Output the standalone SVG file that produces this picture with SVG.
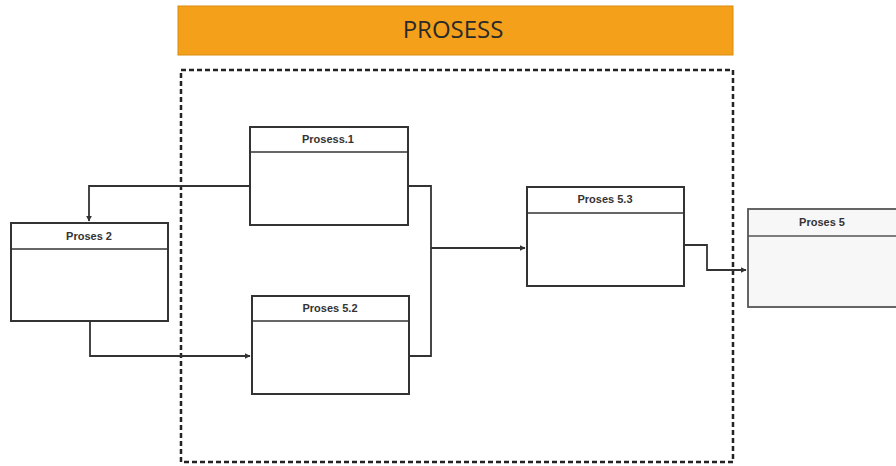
<svg xmlns="http://www.w3.org/2000/svg" width="896" height="466" viewBox="0 0 896 466">
<defs>
<style>
.box{fill:#fff;stroke:#333;stroke-width:2}
.div{stroke:#333;stroke-width:1.5}
.lbl{font-family:"Liberation Sans",Arial,sans-serif;font-size:11px;font-weight:bold;fill:#333;text-anchor:middle}
.con{fill:none;stroke:#333;stroke-width:1.8}
</style>
<marker id="arr" viewBox="0 0 10 10" refX="9" refY="5" markerWidth="6" markerHeight="6" orient="auto" markerUnits="userSpaceOnUse">
<path d="M0,0 L10,5 L0,10 z" fill="#333"/>
</marker>
</defs>
<rect width="896" height="466" fill="#fff"/>
<g id="banner">
<rect x="178" y="6" width="555" height="49" fill="#F5A01A" stroke="#d88a10" stroke-width="1"/>
<text x="453" y="38" font-family="'Open Sans','Liberation Sans',sans-serif" font-size="24" fill="#2a2a2a" text-anchor="middle">PROSESS</text>
</g>
<g id="boundary">
<rect x="181" y="70" width="552" height="392" fill="none" stroke="#222" stroke-width="2.5" stroke-dasharray="5,3"/>
</g>
<g id="connectors">
<path class="con" d="M250,186 H89 V221" marker-end="url(#arr)"/>
<path class="con" d="M90,321 V356 H250" marker-end="url(#arr)"/>
<path class="con" d="M408,186 H431 V356 H409"/>
<path class="con" d="M431,248 H525" marker-end="url(#arr)"/>
<path class="con" d="M684,245 H707 V270 H746" marker-end="url(#arr)"/>
</g>
<g id="proses2">
<rect class="box" x="11" y="223" width="157" height="98"/>
<line class="div" x1="11" y1="249" x2="168" y2="249"/>
<text class="lbl" x="89" y="240">Proses 2</text>
</g>
<g id="proses51">
<rect class="box" x="250" y="127" width="158" height="98"/>
<line class="div" x1="250" y1="152" x2="408" y2="152"/>
<text class="lbl" x="328" y="143">Prosess.1</text>
</g>
<g id="proses52">
<rect class="box" x="252" y="296" width="157" height="98"/>
<line class="div" x1="252" y1="321" x2="409" y2="321"/>
<text class="lbl" x="330" y="312">Proses 5.2</text>
</g>
<g id="proses53">
<rect class="box" x="527" y="187" width="157" height="99"/>
<line class="div" x1="527" y1="213" x2="684" y2="213"/>
<text class="lbl" x="605" y="203">Proses 5.3</text>
</g>
<g id="proses5">
<rect x="748" y="209" width="150" height="98" fill="#f7f7f7" stroke="#555" stroke-width="1.8"/>
<line x1="748" y1="236" x2="896" y2="236" stroke="#555" stroke-width="1.5"/>
<text class="lbl" x="822" y="226">Proses 5</text>
</g>
</svg>
